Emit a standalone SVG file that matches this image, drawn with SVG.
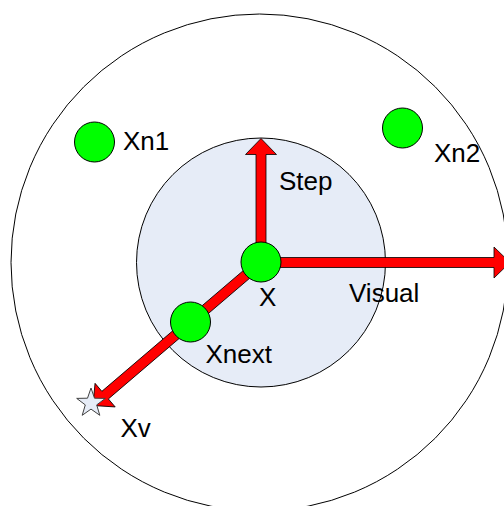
<svg xmlns="http://www.w3.org/2000/svg" width="504" height="506" viewBox="0 0 504 506">
<style>
.ring{fill:#ffffff;stroke:#000000;stroke-width:1}
.inner{fill:#E6ECF7;stroke:#000000;stroke-width:1}
.node{fill:#00FF00;stroke:#000000;stroke-width:1}
.arrow{fill:#FF0000;stroke:#000000;stroke-width:0.8}
.star{fill:#E6ECF7;stroke:#404040;stroke-width:1}
text{font-family:"Liberation Sans",Arial,sans-serif;font-size:26px;fill:#000000}
</style>
<rect width="504" height="506" fill="#ffffff"/>
<g id="visual-range">
<circle class="ring" cx="259.5" cy="262.5" r="248.5"/>
</g>
<g id="step-range">
<circle class="inner" cx="261" cy="262.5" r="124.5"/>
</g>
<g id="connectors">
<polygon class="arrow" points="256,262 256,154.5 245.5,154.5 261,138.5 276.5,154.5 266,154.5 266,262"/>
<polygon class="arrow" points="261,257.5 494,257.5 494,247 510,262.5 494,278 494,267.5 261,267.5"/>
<polygon class="arrow" transform="translate(261,262) rotate(139.5)" points="0,-5 205,-5 205,-15.5 221,0 205,15.5 205,5 0,5"/>
</g>
<g id="Xn1">
<circle class="node" cx="94.5" cy="142" r="20"/>
<text x="123" y="150">Xn1</text>
</g>
<g id="Xn2">
<circle class="node" cx="402.5" cy="128" r="20"/>
<text x="434" y="162">Xn2</text>
</g>
<g id="X">
<circle class="node" cx="261" cy="262" r="20"/>
<text x="259" y="305.5">X</text>
</g>
<g id="Xnext">
<circle class="node" cx="190.5" cy="322" r="20"/>
<text x="205.5" y="363">Xnext</text>
</g>
<g id="Xv">
<polygon class="star" points="91,388 94.5,398.2 105.3,398.4 96.7,404.9 99.8,415.3 91,409.1 82.2,415.3 85.3,404.9 76.7,398.4 87.5,398.2"/>
<text x="120.5" y="436.5">Xv</text>
</g>
<g id="labels">
<text x="279" y="190">Step</text>
<text x="349" y="301.5">Visual</text>
</g>
</svg>
